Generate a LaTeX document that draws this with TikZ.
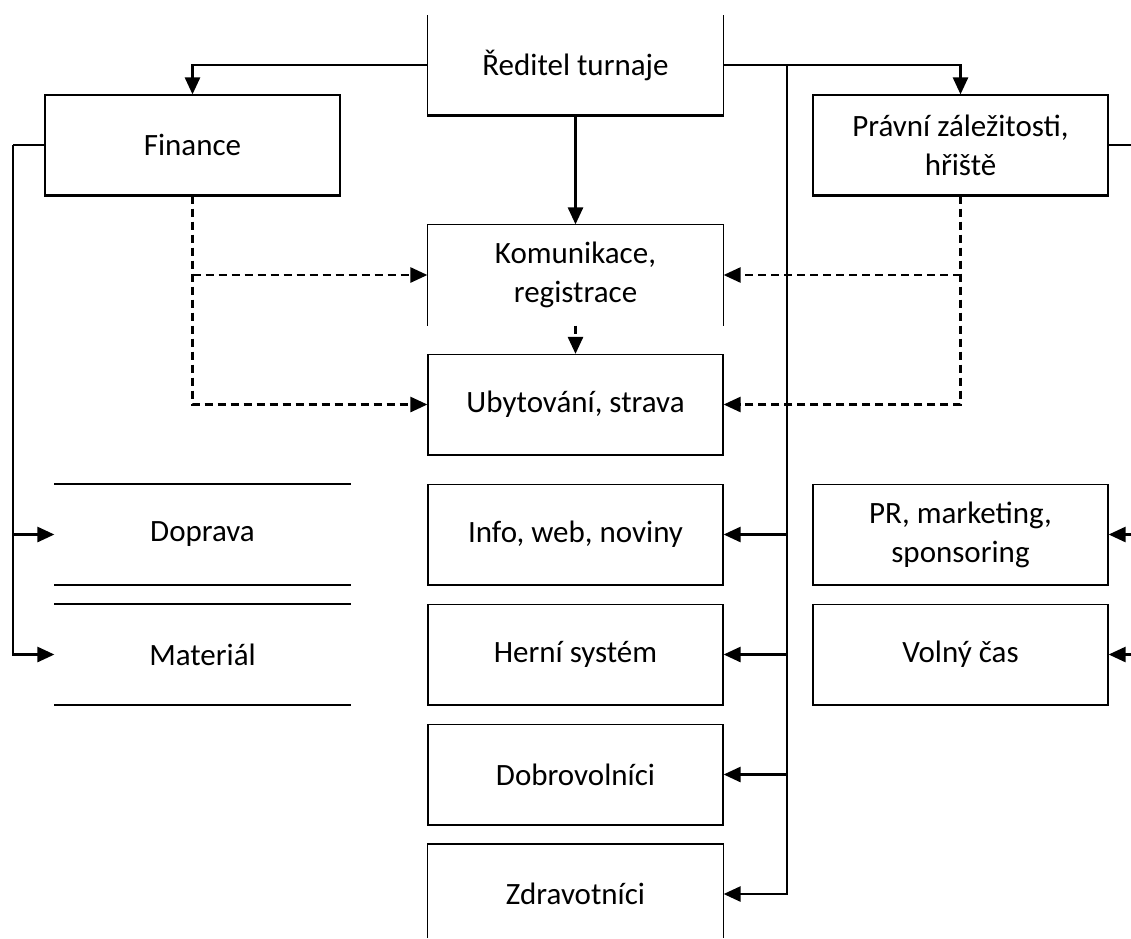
\documentclass[tikz,border=0pt]{standalone}
\usepackage{fontspec}
\setmainfont{Carlito}
\usetikzlibrary{arrows.meta}
\begin{document}
\begin{tikzpicture}[x=1pt,y=-1pt,
  box/.style={rectangle, draw, line width=1.2pt, minimum width=295pt, minimum height=100pt,
    inner sep=0pt, align=center, font=\fontsize{31}{39}\selectfont},
  openbox/.style={box, draw=none},
  link/.style={line width=2.6pt, -{Triangle[length=17pt,width=15pt]}},
  dlink/.style={link, dash pattern=on 8pt off 5pt},
  plain/.style={line width=2.6pt},
  rule/.style={line width=1.2pt},
  thick rule/.style={line width=2.6pt}
]
\useasboundingbox (0,0) rectangle (1131,938);

% top level
\node[openbox] (red) at (575.5,65) {Ředitel turnaje};
\node[box] (fin) at (192.5,145) {Finance};
\node[box] (prav) at (960.5,145) {Právní záležitosti,\\hřiště};

% central column
\node[openbox] (kom) at (575.5,275) {Komunikace,\\registrace};
\node[box] (ub) at (575.5,404.5) {Ubytování, strava};
\node[box] (info) at (575.5,534.5) {Info, web, noviny};
\node[box] (hern) at (575.5,654.5) {Herní systém};
\node[box] (dob) at (575.5,774.5) {Dobrovolníci};
\node[openbox] (zdr) at (575.5,894) {Zdravotníci};

% left column
\node[openbox] (dop) at (202.5,534.5) {Doprava};
\node[openbox] (mat) at (202.5,654.5) {Materiál};

% right column
\node[box] (pr) at (960.5,534.5) {PR, marketing,\\sponsoring};
\node[box] (vol) at (960.5,654.5) {Volný čas};

% edges of the partly open boxes
\draw[rule] (red.west |- 0,15) -- (red.south west);
\draw[rule] (red.east |- 0,15) -- (red.south east);
\draw[thick rule] (red.south west) -- (red.south east);
\draw[rule] (kom.north west) -- (kom.north east);
\draw[rule] (kom.north west) -- (kom.south west);
\draw[rule] (kom.north east) -- (kom.south east);
\draw[rule] (zdr.west |- 0,938) -- (zdr.west |- 0,844) -- (zdr.east |- 0,844) -- (zdr.east |- 0,938);
\draw[rule] (dop.north west) -- (dop.north east);
\draw[thick rule] (dop.south west) -- (dop.south east);
\draw[rule] (mat.north west) -- (mat.north east);
\draw[thick rule] (mat.south west) -- (mat.south east);
\foreach \n in {fin,prav,ub,info,hern,dob,pr,vol}
  \draw[thick rule] (\n.south west) -- (\n.south east);

% director links
\draw[link] (red.west) -| (fin.north);
\draw[link] (red.east) -| (prav.north);
\draw[link] (red.south) -- (kom.north);

% trunk on the right of the central column
\coordinate (trunk) at (787,65);
\draw[link] (trunk) |- (zdr.east);
\draw[link] (trunk |- info.east) -- (info.east);
\draw[link] (trunk |- hern.east) -- (hern.east);
\draw[link] (trunk |- dob.east) -- (dob.east);

% finance branch on the left
\coordinate (lbus) at (13,145);
\draw[plain] (fin.west) -- (lbus);
\draw[link] (lbus) |- (mat.west);
\draw[link] (lbus |- dop.west) -- (dop.west);

% dashed links
\draw[dlink] (fin.south) |- (ub.west);
\draw[dlink] (fin.south |- kom.west) -- (kom.west);
\draw[dlink] (prav.south) |- (ub.east);
\draw[dlink] (prav.south |- kom.east) -- (kom.east);
\draw[dlink] (kom.south) -- (ub.north);

% links running off the right edge
\coordinate (redge1) at (1131,145);
\coordinate (redge2) at (1131,534.5);
\coordinate (redge3) at (1131,654.5);
\draw[plain] (prav.east) -- (redge1);
\draw[link] (redge2) -- (pr.east);
\draw[link] (redge3) -- (vol.east);
\end{tikzpicture}
\end{document}
